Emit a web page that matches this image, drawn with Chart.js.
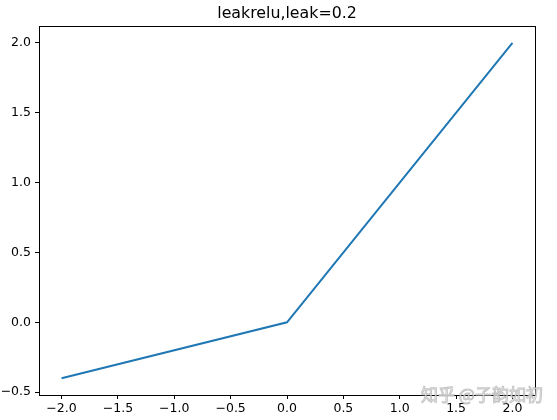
<!DOCTYPE html>
<html><head><meta charset="utf-8">
<script src="https://cdn.jsdelivr.net/npm/chart.js@4/dist/chart.umd.min.js"></script>
<style>html,body{margin:0;padding:0;background:#fff}#wrap{width:557px;height:420px}</style>
</head><body><div id="wrap"><canvas id="c" width="557" height="420"></canvas></div>
<script>
const titleText = "leakrelu,leak=0.2";
const watermark = "知乎 @子韵如初";
const xValues = [-2.0, 0.0, 2.0];
const yValues = [-0.4, 0.0, 2.0];
const xTicks = [-2.0, -1.5, -1.0, -0.5, 0.0, 0.5, 1.0, 1.5, 2.0];
const yTicks = [-0.5, 0.0, 0.5, 1.0, 1.5, 2.0];

const fmt = v => (v < 0 ? "\u2212" : "") + Math.abs(v).toFixed(1);

const framePlugin = {
  id: 'frame',
  afterDraw(chart) {
    const {ctx, chartArea: a} = chart;
    ctx.save();
    ctx.strokeStyle = '#000'; ctx.lineWidth = 1;
    ctx.strokeRect(Math.round(a.left)+0.5, Math.round(a.top)+0.5, Math.round(a.right-a.left), Math.round(a.bottom-a.top));
    ctx.fillStyle = '#000';
    ctx.font = '15.8px "DejaVu Sans"';
    ctx.textAlign = 'center'; ctx.textBaseline = 'alphabetic';
    ctx.fillText(titleText, (a.left + a.right) / 2, 18);
    ctx.font = '17px "Noto Sans CJK SC"';
    ctx.textAlign = 'left'; ctx.textBaseline = 'middle';
    ctx.lineWidth = 1;
    ctx.strokeStyle = 'rgba(150,150,150,0.55)';
    ctx.fillStyle = 'rgba(255,255,255,0.85)';
    ctx.fillText(watermark, 421, 395);
    ctx.strokeText(watermark, 421, 395);
    ctx.restore();
  }
};

new Chart(document.getElementById('c'), {
  type: 'line',
  data: {
    datasets: [{
      data: xValues.map((x, i) => ({x: x, y: yValues[i]})),
      borderColor: '#1f77b4', borderWidth: 2, pointRadius: 0, tension: 0, fill: false
    }]
  },
  options: {
    responsive: false, animation: false, devicePixelRatio: 1,
    layout: {padding: {top: 26, right: 22, left: 0, bottom: 0}},
    plugins: {legend: {display: false}, tooltip: {enabled: false}},
    scales: {
      x: {
        type: 'linear', min: -2.2, max: 2.2,
        afterBuildTicks: s => { s.ticks = xTicks.map(v => ({value: v})); },
        afterFit: s => { s.height = 25; },
        grid: {display: true, drawOnChartArea: false, drawTicks: true, tickLength: 4, color: '#000', tickWidth: 1},
        border: {display: true, color: '#000', width: 1},
        ticks: {color: '#000', font: {family: 'DejaVu Sans', size: 12.5}, padding: 2, maxRotation: 0, autoSkip: false, callback: v => fmt(v)}
      },
      y: {
        type: 'linear', min: -0.52, max: 2.12,
        afterBuildTicks: s => { s.ticks = yTicks.map(v => ({value: v})); },
        afterFit: s => { s.width = 39; },
        grid: {display: true, drawOnChartArea: false, drawTicks: true, tickLength: 4, color: '#000', tickWidth: 1},
        border: {display: true, color: '#000', width: 1},
        ticks: {color: '#000', font: {family: 'DejaVu Sans', size: 12.5}, padding: 4, autoSkip: false, callback: v => fmt(v)}
      }
    }
  },
  plugins: [framePlugin]
});
</script></body></html>
